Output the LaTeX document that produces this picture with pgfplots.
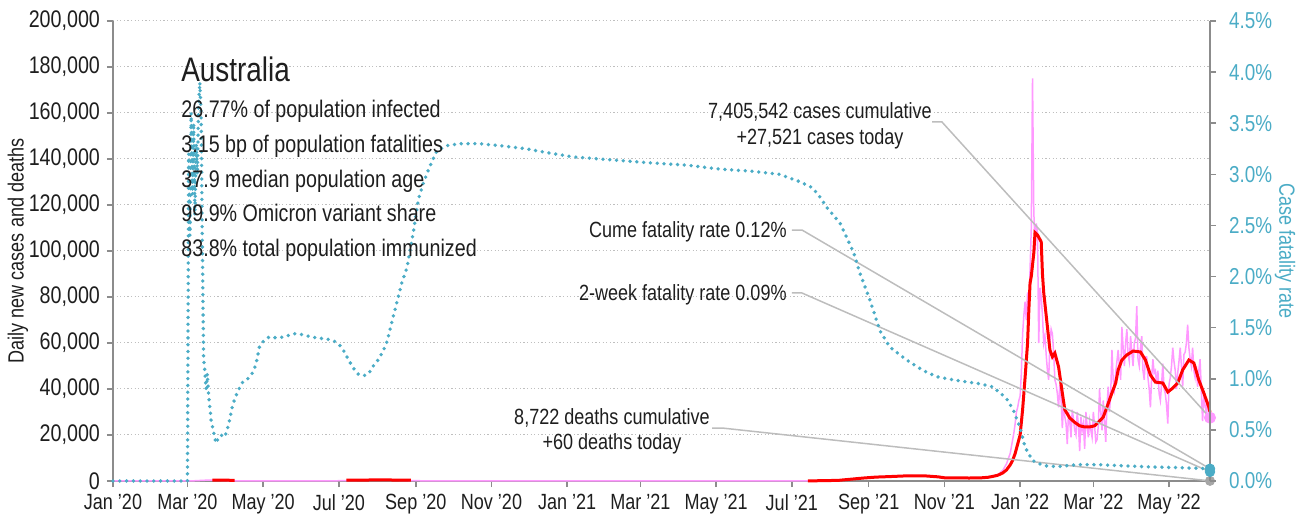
\documentclass[border=0pt]{standalone}
\usepackage{fontspec}
\setmainfont{Liberation Sans}[FakeStretch=0.82]
\usepackage{pgfplots}
\pgfplotsset{compat=1.18}
\usepackage{pgfplotstable}

\definecolor{cfrblue}{HTML}{4BACC6}
\definecolor{casepink}{HTML}{FF99FF}
\definecolor{avgred}{HTML}{FF0000}
\definecolor{axgray}{HTML}{8C8C8C}
\definecolor{gridgray}{HTML}{BFBFBF}
\definecolor{anngray}{HTML}{BDBDBD}
\definecolor{txt}{HTML}{1E1E1E}

% day 0 = 1 Jan 2020
\pgfplotstableread{
d v
0 0
55 0
60 30
65 90
70 220
75 350
80 420
85 380
90 260
95 140
100 60
110 25
130 15
160 10
175 30
185 160
195 310
205 430
215 480
222 440
230 330
240 190
250 80
260 30
280 15
320 8
366 10
400 15
500 8
540 15
560 60
574 150
585 320
595 800
605 1300
615 1700
625 2000
640 2300
655 2250
665 1800
670 1400
690 1300
700 1400
701 1500
702 1700
703 1600
704 1500
705 1300
706 1700
707 1900
708 2100
709 2200
710 2300
711 2500
712 2400
713 2700
714 3200
715 3600
716 4200
717 4600
718 5500
719 6500
720 7400
721 9000
722 10500
723 12000
724 15000
725 18000
726 21000
727 25000
728 30000
729 32000
730 35000
731 37000
732 47000
733 64000
734 72000
735 78000
736 70000
737 82000
738 73000
739 92000
740 110000
741 175000
742 118000
743 100000
744 112000
745 108000
746 60000
747 84000
748 80000
749 72000
750 60000
751 63000
752 55000
753 48000
754 44000
755 60000
756 66000
757 64000
758 56000
759 44000
760 42000
761 38000
762 32000
763 42000
764 36000
765 23000
766 33000
767 28000
768 25000
769 16000
770 30000
771 26000
772 19000
773 31000
774 27000
775 22000
776 20000
777 30000
778 24000
779 13000
780 28000
781 22000
782 25000
783 14000
784 30000
785 24000
786 19000
787 26000
788 22000
789 19000
790 30000
791 24000
792 17000
793 18000
794 24000
795 40000
796 30000
797 22000
798 35000
799 26000
800 17000
801 33000
802 41000
803 30000
804 38000
805 57000
806 44000
807 40000
808 47000
809 52000
810 57000
811 50000
812 44000
813 67000
814 58000
815 50000
816 60000
817 66000
818 55000
819 52000
820 63000
821 56000
822 50000
823 60000
824 62000
825 76000
826 53000
827 50000
828 58000
829 63000
830 48000
831 44000
832 54000
833 54000
834 45000
835 40000
836 32000
837 45000
838 53000
839 47000
840 48000
841 42000
842 48000
843 38000
844 35000
845 42000
846 51000
847 40000
848 38000
849 33000
850 25000
851 42000
852 45000
853 50000
854 58000
855 52000
856 48000
857 40000
858 47000
859 52000
860 58000
861 50000
862 41000
863 55000
864 56000
865 60000
866 68000
867 58000
868 53000
869 50000
870 58000
871 48000
872 45000
873 50000
874 41000
875 48000
876 53000
877 40000
878 26000
879 36000
880 33000
881 30000
882 35000
883 28000
884 27521
}\daily

\pgfplotstableread{
d v
80 400
85 380
90 350
98 300
99 nan
188 350
195 380
205 430
215 470
222 450
230 400
240 350
241 nan
560 60
574 150
585 300
595 800
605 1300
615 1700
625 1900
640 2250
655 2200
665 1800
670 1400
690 1300
700 1400
705 1600
709 2000
713 2500
717 3500
720 4800
723 7000
725 9000
727 12000
729 16000
731 20000
733 31000
735 45000
737 60000
738 74000
739 86000
740 89000
742 99000
743 108000
745 107000
748 104000
749 90000
750 82000
753 67000
755 57000
757 54000
759 55600
762 49600
765 38300
767 31000
771 27400
775 25500
779 24000
783 23500
787 23500
791 24000
794 25500
798 27800
801 32200
805 38300
808 42600
810 48300
813 52600
817 54800
822 56500
828 56100
832 52600
836 46100
840 43000
846 42600
850 38700
854 40400
858 42600
862 48300
867 52600
871 51300
875 43900
879 38300
883 32200
884 30000
}\avg

\pgfplotstableread{
d r
0 0
59 0
60 0
61 3.2
62 2.4
63 3.6
64 2.8
65 3.5
66 2.6
67 3.3
68 3.0
69 3.7
70 3.9
71 3.6
72 2.3
73 1.2
74 1.08
75 0.9
76 1.05
77 0.85
79 0.6
83 0.37
85 0.42
87 0.45
90 0.43
92 0.50
94 0.60
96 0.72
98 0.80
100 0.86
104 0.96
108 0.99
112 1.05
115 1.13
118 1.31
122 1.38
126 1.41
132 1.40
138 1.41
145 1.44
150 1.44
156 1.42
164 1.40
172 1.39
178 1.37
182 1.34
186 1.27
190 1.18
194 1.10
198 1.04
202 1.03
206 1.05
210 1.13
214 1.19
218 1.28
221 1.37
225 1.57
229 1.76
233 1.95
237 2.09
242 2.43
246 2.75
250 2.91
255 3.07
261 3.23
269 3.28
279 3.30
295 3.30
312 3.28
333 3.25
346 3.22
371 3.17
392 3.15
414 3.13
436 3.11
462 3.09
490 3.05
515 3.03
537 3.00
553 2.93
562 2.88
568 2.81
575 2.68
586 2.52
597 2.23
602 2.03
610 1.77
618 1.47
626 1.31
640 1.18
653 1.08
664 1.02
677 0.99
699 0.95
709 0.92
717 0.84
721 0.79
726 0.68
731 0.52
735 0.33
741 0.20
750 0.15
761 0.14
777 0.16
793 0.16
830 0.14
860 0.13
884 0.12
}\cfr

\pgfplotsset{
  /pgf/number format/assume math mode=true,
  common/.style={
    width=548.5pt, height=230pt, scale only axis,
    at={(0pt,0pt)}, anchor=south west,
    xmin=0, xmax=884, clip=false,
    axis line style={axgray, line width=0.75pt, -},
    tick style={axgray, line width=0.75pt},
    tick align=outside, major tick length=3pt,
    tick label style={font=\fontsize{11}{13}\selectfont},
    label style={font=\fontsize{11}{13}\selectfont},
  }
}

\begin{document}
\begin{tikzpicture}
\begin{axis}[common,
  axis x line*=bottom, axis y line*=left,
  ymin=0, ymax=200000,
  ytick={0,20000,40000,60000,80000,100000,120000,140000,160000,180000,200000},
  scaled y ticks=false,
  yticklabel style={/pgf/number format/fixed, /pgf/number format/1000 sep={,}, text=txt, font=\fontsize{12}{14}\selectfont},
  xticklabel style={text=txt},
  xtick={0,60,121,182,244,305,366,425,486,547,609,670,731,790,851},
  xticklabels={Jan '20,Mar '20,May '20,Jul '20,Sep '20,Nov '20,Jan '21,Mar '21,May '21,Jul '21,Sep '21,Nov '21,Jan '22,Mar '22,May '22},
  ymajorgrids,
  grid style={gridgray, dash pattern=on 0.6pt off 1.2pt, line width=0.5pt},
  ylabel={Daily new cases and deaths},
  ylabel style={at={(axis description cs:-0.0866,0.5)}, anchor=center, text=txt},
  unbounded coords=jump,
]
\addplot[casepink, line width=0.75pt] table[x=d, y=v] {\daily};
\addplot[avgred, line width=1.5pt] table[x=d, y=v] {\avg};
% annotation leader lines
\addplot[anngray, line width=0.75pt] coordinates {(660,156100) (668,156100) (884,27521)};
\addplot[anngray, line width=0.75pt] coordinates {(547.1,109130) (555.2,109130) (884,5333)};
\addplot[anngray, line width=0.75pt] coordinates {(547.1,81739) (555.2,81739) (884,4000)};
\addplot[anngray, line width=0.75pt] coordinates {(482.7,23043) (490.7,23043) (884,60)};
\addplot[only marks, mark=*, mark size=2.3pt, color=black!35] coordinates {(884,60)};
\addplot[only marks, mark=*, mark size=2.8pt, color=casepink] coordinates {(884,27521)};
\end{axis}
\begin{axis}[common,
  axis y line*=right, axis x line=none,
  ymin=0, ymax=4.5,
  ytick={0,0.5,1,1.5,2,2.5,3,3.5,4,4.5},
  yticklabel={\pgfmathprintnumber[fixed,fixed zerofill,precision=1]{\tick}\%},
  yticklabel style={text=cfrblue, xshift=3pt, font=\fontsize{11.5}{13}\selectfont},
  ylabel={Case fatality rate},
  ylabel style={at={(axis description cs:1.0684,0.5)}, anchor=center, rotate=180, text=cfrblue},
]
\addplot[cfrblue, line width=1.9pt, line cap=round, dash pattern=on 0pt off 3.4pt] table[x=d, y=r] {\cfr};
\addplot[only marks, mark=*, mark size=2.4pt, color=cfrblue] coordinates {(884,0.12) (884,0.09)};
\end{axis}
\begin{scope}[shift={(-56.5pt,240.5pt)}, x=0.5pt, y=-0.5pt, text=txt]
\node[anchor=base west, inner sep=0, font=\fontsize{17}{19}\selectfont] at (181,82) {Australia};
\begin{scope}[every node/.style={anchor=base west, inner sep=0, font=\fontsize{12}{14}\selectfont}]
\node at (181,118) {26.77\% of population infected};
\node at (181,153) {3.15 bp of population fatalities};
\node at (181,188) {37.9 median population age};
\node at (181,222) {99.9\% Omicron variant share};
\node at (181,257) {83.8\% total population immunized};
\end{scope}
\begin{scope}[every node/.style={inner sep=0, font=\fontsize{11}{13}\selectfont}]
\node[anchor=base] at (820,119) {7,405,542 cases cumulative};
\node[anchor=base] at (820,145) {+27,521 cases today};
\node[anchor=base east] at (787,238) {Cume fatality rate 0.12\%};
\node[anchor=base east] at (787,301) {2-week fatality rate 0.09\%};
\node[anchor=base] at (612,425) {8,722 deaths cumulative};
\node[anchor=base] at (612,450) {+60 deaths today};
\end{scope}
\end{scope}
\pgfresetboundingbox
\path[use as bounding box] (-56.5pt,-19.5pt) rectangle (592.5pt,240.5pt);
\end{tikzpicture}
\end{document}
